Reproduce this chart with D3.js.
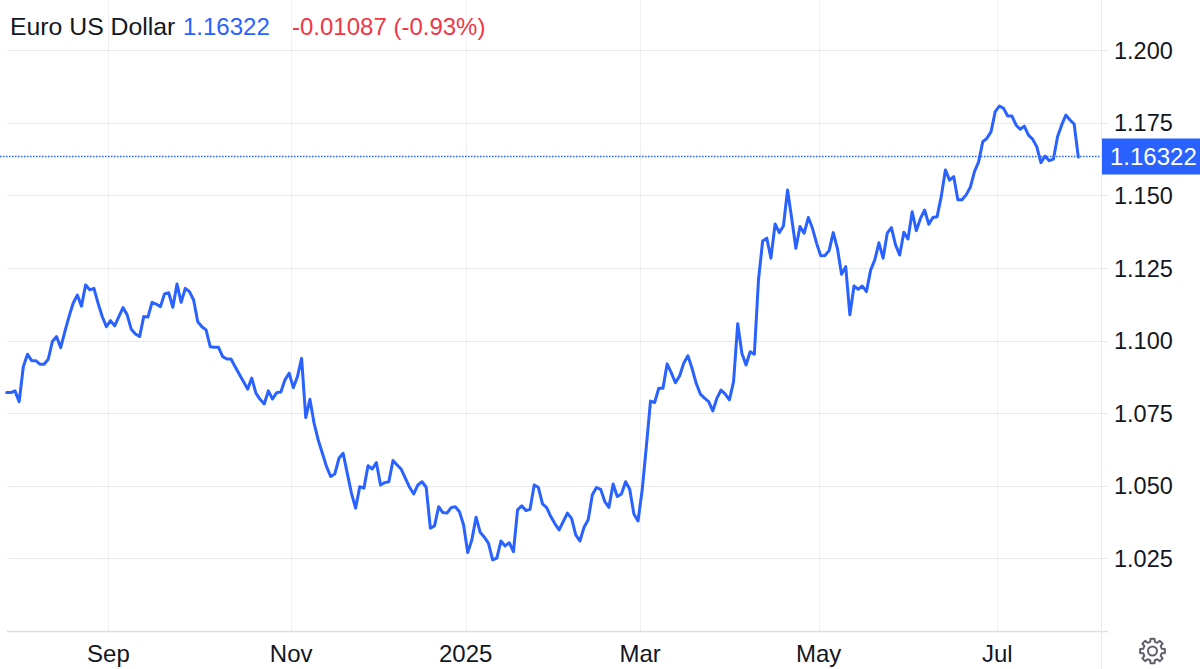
<!DOCTYPE html>
<html><head><meta charset="utf-8">
<script src="https://cdn.jsdelivr.net/npm/d3@7"></script>
<style>html,body{margin:0;padding:0;background:#fff;overflow:hidden}svg{display:block;font-family:"Liberation Sans",Arial,sans-serif}</style>
</head><body><svg id="c" width="1200" height="669"></svg>
<script>
const title = "Euro US Dollar";
const lastPrice = 1.16322;
const changeText = "-0.01087 (-0.93%)";
const values = [
1.0821,1.0821,1.0827,1.0790,1.0910,1.0953,1.0931,1.0931,1.0919,1.0919,
1.0936,1.0997,1.1014,1.0976,1.1031,1.1083,1.1129,1.1157,1.1119,1.1192,
1.1175,1.1180,1.1129,1.1083,1.1048,1.1069,1.1051,1.1083,1.1114,1.1089,
1.1039,1.1023,1.1014,1.1083,1.1081,1.1132,1.1126,1.1117,1.1161,1.1165,
1.1115,1.1195,1.1132,1.1180,1.1169,1.1140,1.1065,1.1048,1.1037,1.0979,
1.0977,1.0977,1.0945,1.0937,1.0937,1.0910,1.0884,1.0859,1.0833,1.0871,
1.0819,1.0798,1.0782,1.0827,1.0799,1.0821,1.0823,1.0865,1.0888,1.0838,
1.0876,1.0939,1.0735,1.0798,1.0716,1.0658,1.0612,1.0566,1.0532,1.0541,
1.0595,1.0612,1.0543,1.0475,1.0423,1.0497,1.0492,1.0569,1.0558,1.0580,
1.0503,1.0511,1.0514,1.0587,1.0572,1.0557,1.0526,1.0495,1.0472,1.0503,
1.0514,1.0495,1.0354,1.0362,1.0428,1.0408,1.0406,1.0425,1.0428,1.0411,
1.0365,1.0270,1.0314,1.0392,1.0340,1.0323,1.0302,1.0245,1.0251,1.0310,
1.0293,1.0304,1.0273,1.0417,1.0431,1.0415,1.0419,1.0503,1.0495,1.0438,
1.0425,1.0394,1.0369,1.0348,1.0377,1.0406,1.0388,1.0331,1.0310,1.0357,
1.0383,1.0469,1.0494,1.0488,1.0446,1.0426,1.0506,1.0463,1.0472,1.0514,
1.0488,1.0403,1.0379,1.0486,1.0635,1.0792,1.0787,1.0836,1.0836,1.0920,
1.0890,1.0855,1.0878,1.0922,1.0948,1.0905,1.0853,1.0816,1.0802,1.0790,
1.0758,1.0802,1.0830,1.0816,1.0796,1.0859,1.1058,1.0957,1.0916,1.0962,
1.0953,1.1209,1.1343,1.1353,1.1284,1.1402,1.1372,1.1395,1.1519,1.1421,
1.1318,1.1393,1.1370,1.1424,1.1387,1.1335,1.1292,1.1293,1.1310,1.1372,
1.1318,1.1229,1.1255,1.1089,1.1188,1.1177,1.1188,1.1169,1.1243,1.1278,
1.1337,1.1284,1.1370,1.1389,1.1330,1.1295,1.1373,1.1350,1.1444,1.1379,
1.1421,1.1450,1.1401,1.1424,1.1427,1.1496,1.1588,1.1553,1.1565,1.1485,
1.1485,1.1502,1.1528,1.1582,1.1616,1.1685,1.1697,1.1720,1.1789,1.1808,
1.1800,1.1774,1.1774,1.1743,1.1728,1.1739,1.1708,1.1694,1.1668,1.1613,
1.1636,1.1620,1.1625,1.1702,1.1743,1.1777,1.1760,1.1746,1.16322
];
const yTicks = [1.000, 1.025, 1.050, 1.075, 1.100, 1.125, 1.150, 1.175, 1.200];
const xTickLabels = ["Sep", "Nov", "2025", "Mar", "May", "Jul"];
const xTickIndex = [24.5, 68.5, 110.5, 152.5, 195.5, 238.5];

const W = 1200, H = 669;
const plotLeft = 7, plotRight = 1101, plotTop = 0, plotBottom = 631;
const svg = d3.select("#c");

const x = d3.scaleLinear().domain([0, values.length - 1]).range([6.7, 1078.3]);
const y = d3.scaleLinear().domain([1.0, 1.2]).range([631, 50.3]);

// vertical grid
svg.append("g").selectAll("line").data(xTickIndex).join("line")
  .attr("x1", d => Math.round(x(d)) + 0.5).attr("x2", d => Math.round(x(d)) + 0.5)
  .attr("y1", plotTop).attr("y2", plotBottom)
  .attr("stroke", "#edf0f6").attr("stroke-width", 1);

// horizontal grid
svg.append("g").selectAll("line").data(yTicks).join("line")
  .attr("x1", plotLeft).attr("x2", 1108)
  .attr("y1", d => Math.round(y(d)) + 0.5).attr("y2", d => Math.round(y(d)) + 0.5)
  .attr("stroke", d => d === 1.0 ? "#dcdfe5" : "#e6e8ee").attr("stroke-width", d => d === 1.0 ? 1.5 : 1);

// right separator
svg.append("line").attr("x1", plotRight + 0.5).attr("x2", plotRight + 0.5)
  .attr("y1", 0).attr("y2", H).attr("stroke", "#e6e8ee");

// y labels
svg.append("g").selectAll("text").data(yTicks.filter(d => d > 1.0)).join("text")
  .attr("x", 1114).attr("y", d => y(d)).attr("dy", "0.36em")
  .attr("font-size", 23.5).attr("fill", "#131722")
  .text(d => d3.format(".3f")(d));

// x labels
svg.append("g").selectAll("text").data(xTickIndex).join("text")
  .attr("x", d => x(d)).attr("y", 653).attr("dy", "0.36em")
  .attr("text-anchor", "middle").attr("font-size", 24).attr("fill", "#131722")
  .text((d, i) => xTickLabels[i]);

// last price dotted line
const yp = Math.round(y(lastPrice)) - 0.5;
svg.append("line").attr("x1", 0).attr("x2", plotRight)
  .attr("y1", yp).attr("y2", yp)
  .attr("stroke", "#2962ff").attr("stroke-width", 1.5).attr("stroke-dasharray", "1.5,1.5");

// price line
const line = d3.line().x((d, i) => x(i)).y(d => y(d)).curve(d3.curveLinear);
svg.append("path").datum(values).attr("d", line)
  .attr("fill", "none").attr("stroke", "#2962ff").attr("stroke-width", 3)
  .attr("stroke-linejoin", "round").attr("stroke-linecap", "round");

// price box
svg.append("rect").attr("x", plotRight + 1).attr("y", yp - 18)
  .attr("width", W - plotRight - 1).attr("height", 36).attr("fill", "#2962ff");
svg.append("text").attr("x", 1110).attr("y", yp).attr("dy", "0.36em")
  .attr("font-size", 24).attr("fill", "#ffffff").text(d3.format(".5f")(lastPrice));

// header
svg.append("text").attr("x", 10).attr("y", 35).attr("font-size", 24.8).attr("fill", "#131722").text(title);
svg.append("text").attr("x", 183).attr("y", 35).attr("font-size", 24).attr("fill", "#2962ff").text(d3.format(".5f")(lastPrice));
svg.append("text").attr("x", 292).attr("y", 35).attr("font-size", 24).attr("fill", "#f23645").text(changeText);

// gear icon
const gcx = 1152.5, gcy = 651, teeth = 8;
const pts = [];
for (let k = 0; k < teeth; k++) {
  const a0 = (k / teeth) * 2 * Math.PI;
  const s = 2 * Math.PI / teeth;
  pts.push([a0 - s * 0.32, 9.5], [a0 - s * 0.2, 12.5], [a0 + s * 0.2, 12.5], [a0 + s * 0.32, 9.5]);
}
svg.append("path")
  .attr("d", d3.lineRadial().angle(d => d[0]).radius(d => d[1]).curve(d3.curveLinearClosed)(pts))
  .attr("transform", `translate(${gcx},${gcy})`)
  .attr("fill", "none").attr("stroke", "#5d606b").attr("stroke-width", 2).attr("stroke-linejoin", "round");
svg.append("circle").attr("cx", gcx).attr("cy", gcy).attr("r", 4.5)
  .attr("fill", "none").attr("stroke", "#5d606b").attr("stroke-width", 2);
</script></body></html>
